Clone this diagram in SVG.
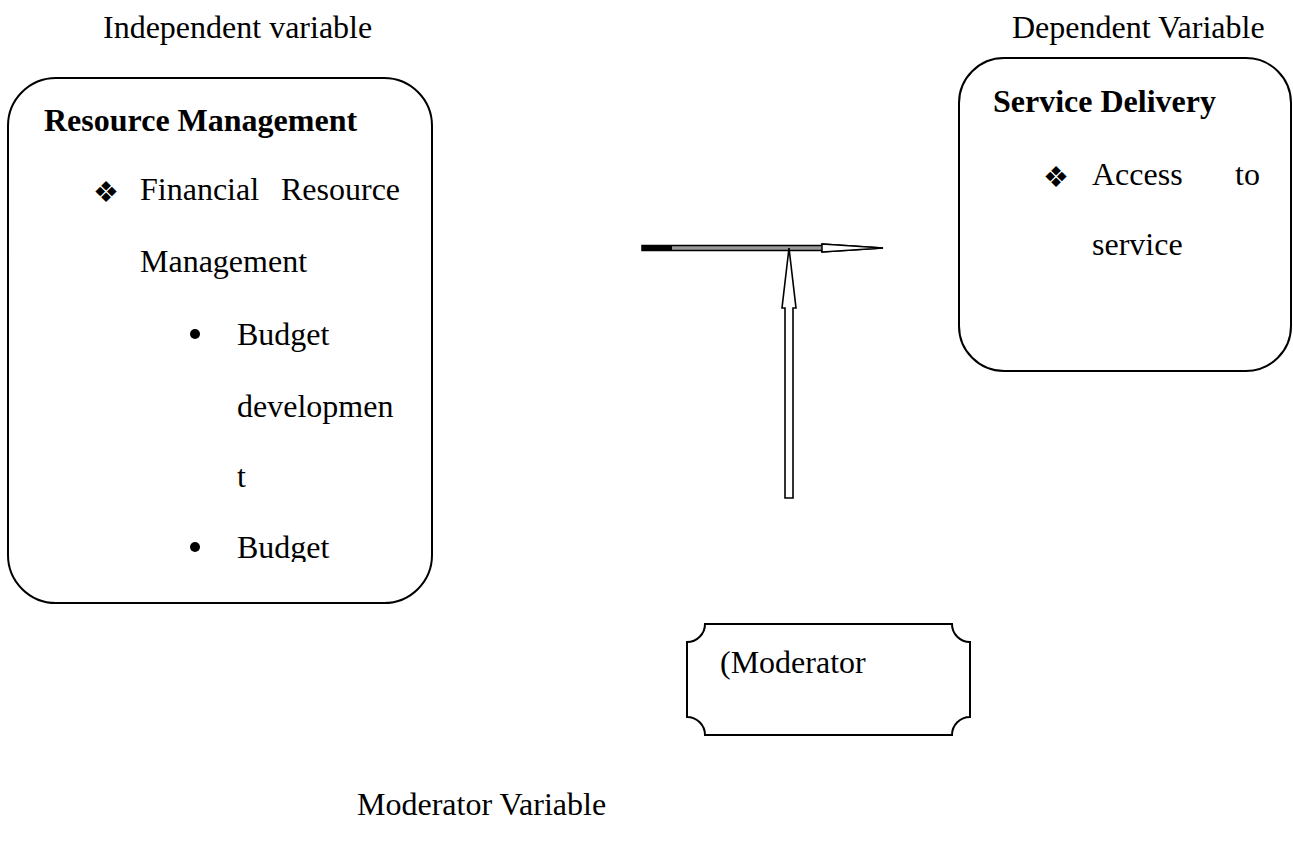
<svg xmlns="http://www.w3.org/2000/svg" width="1293" height="850" viewBox="0 0 1293 850">
<style>
text{font-family:"Liberation Serif","Times New Roman",serif;font-size:32px;fill:#000}
.b{font-weight:bold}
.sym{font-family:"DejaVu Sans",sans-serif;font-size:29px}
.box{fill:#fff;stroke:#000;stroke-width:2}
.arr{fill:#fff;stroke:#000;stroke-width:1.6}
</style>
<defs>
<clipPath id="clipL"><rect x="0" y="0" width="440" height="562"/></clipPath>
</defs>
<rect width="1293" height="850" fill="#fff"/>
<text x="103" y="38">Independent variable</text>
<text x="1012" y="38">Dependent Variable</text>
<text x="357" y="815">Moderator Variable</text>
<g id="resource-management">
<rect class="box" x="8" y="78" width="424" height="525" rx="48" ry="48"/>
<text class="b" x="44" y="131">Resource Management</text>
<text class="sym" x="93" y="202">❖</text>
<text x="140" y="200">Financial</text>
<text x="281" y="200">Resource</text>
<text x="140" y="272">Management</text>
<circle cx="195" cy="334" r="5"/>
<text x="237" y="345">Budget</text>
<text x="237" y="417">developmen</text>
<text x="237" y="487">t</text>
<g clip-path="url(#clipL)">
<circle cx="195" cy="547" r="5"/>
<text x="237" y="558">Budget</text>
</g>
</g>
<g id="service-delivery">
<rect class="box" x="959" y="58" width="332" height="313" rx="45" ry="45"/>
<text class="b" x="993" y="112">Service Delivery</text>
<text class="sym" x="1043" y="187">❖</text>
<text x="1092" y="185">Access</text>
<text x="1235" y="185">to</text>
<text x="1092" y="255">service</text>
</g>
<g id="moderator">
<path class="box" d="M705,624 H952 A18,18 0 0 0 970,642 V717 A18,18 0 0 0 952,735 H705 A18,18 0 0 0 687,717 V642 A18,18 0 0 0 705,624 Z"/>
<text x="720" y="673">(Moderator</text>
</g>
<g id="connectors">
<path d="M642,245.5 H822 V244 L883,248 L822,252 V250.5 H642 Z" fill="#999" stroke="#000" stroke-width="1.5"/>
<rect x="642" y="245" width="30" height="6" fill="#000"/>
<path d="M822,244 L883,248 L822,252 Z" fill="#fff" stroke="#000" stroke-width="1.5"/>
<path class="arr" d="M789,248 L796,308 H793 V498 H785 V308 H782 Z"/>
</g>
</svg>
